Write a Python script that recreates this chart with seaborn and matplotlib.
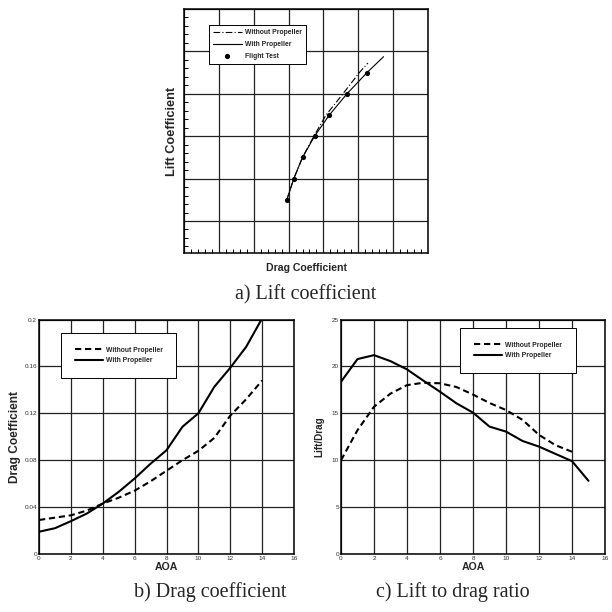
import matplotlib
matplotlib.use("Agg")
import matplotlib.pyplot as plt
import seaborn as sns
from matplotlib.ticker import AutoMinorLocator, MultipleLocator, NullFormatter

# a) lift coefficient vs drag coefficient
cd_without = [0.059, 0.063, 0.068, 0.0745, 0.0815, 0.0912, 0.1006, 0.1055]
cl_without = [0.30, 0.40, 0.50, 0.60, 0.70, 0.80, 0.90, 0.945]
cd_with = [0.059, 0.063, 0.068, 0.0749, 0.0834, 0.0935, 0.105, 0.1145]
cl_with = [0.30, 0.40, 0.50, 0.60, 0.70, 0.80, 0.90, 0.975]
cd_flight = [0.059, 0.063, 0.0682, 0.0749, 0.0834, 0.0935, 0.105]
cl_flight = [0.30, 0.40, 0.50, 0.60, 0.70, 0.80, 0.90]

# b) drag coefficient vs AOA
aoa_b = list(range(0, 15))
drag_without = [0.029, 0.031, 0.033, 0.037, 0.043, 0.048, 0.054, 0.062, 0.071,
                0.080, 0.088, 0.099, 0.118, 0.132, 0.148]
drag_with = [0.019, 0.022, 0.028, 0.0345, 0.043, 0.053, 0.0644, 0.077, 0.0885,
             0.1085, 0.120, 0.1426, 0.1588, 0.1767, 0.201]

# c) lift to drag ratio vs AOA
aoa_c_without = list(range(0, 15))
ld_without = [10.0, 13.2, 15.7, 17.1, 18.0, 18.26, 18.2, 17.8, 17.0, 16.1,
              15.35, 14.3, 12.7, 11.6, 10.9]
aoa_c_with = list(range(0, 16))
ld_with = [18.36, 20.78, 21.2, 20.56, 19.68, 18.47, 17.3, 16.06, 15.07, 13.58,
           13.05, 12.05, 11.45, 10.67, 9.9, 7.8]

sns.set_style("white")
plt.rcParams['font.family'] = ['Liberation Sans', 'DejaVu Sans']

fig = plt.figure(figsize=(6.12, 6.12), dpi=100)

grid_kw = dict(color="#222222", lw=0.9)
leg_font = dict(size=4.9, weight="bold")
lab_font = dict(fontsize=7.6, fontweight="bold")

# -------------------------------
# a) Lift coefficient
# -------------------------------
ax_a = fig.add_axes([184/612, 1 - 253/612, 244/612, 244/612])
sns.lineplot(x=cd_without, y=cl_without, ax=ax_a, color="black", lw=0.8,
             sort=False, estimator=None, label="Without Propeller")
ax_a.lines[-1].set_dashes([6, 2, 1, 2])
sns.lineplot(x=cd_with, y=cl_with, ax=ax_a, color="black", lw=0.8,
             sort=False, estimator=None, label="With Propeller")
sns.scatterplot(x=cd_flight, y=cl_flight, ax=ax_a, color="black", s=14,
                edgecolor="black", linewidth=0, label="Flight Test", zorder=5)
ax_a.set_xlim(0, 0.14)
ax_a.set_ylim(0.049, 1.2)
ax_a.xaxis.set_major_locator(MultipleLocator(0.02))
ax_a.yaxis.set_major_locator(MultipleLocator(0.2))
ax_a.xaxis.set_minor_locator(AutoMinorLocator(5))
ax_a.yaxis.set_minor_locator(AutoMinorLocator(5))
ax_a.xaxis.set_major_formatter(NullFormatter())
ax_a.yaxis.set_major_formatter(NullFormatter())
ax_a.tick_params(which="major", length=0)
ax_a.tick_params(which="minor", direction="in", length=3, width=0.7,
                 left=True, bottom=True, color="black")
ax_a.grid(True, which="major", **grid_kw)
ax_a.set_xlabel("Drag Coefficient", **lab_font)
ax_a.set_ylabel("Lift Coefficient", fontsize=9.2, fontweight="bold")
ax_a.xaxis.set_label_coords(0.5, -0.043)
ax_a.yaxis.set_label_coords(-0.025, 0.5)
leg = ax_a.legend(loc="upper left", bbox_to_anchor=(0.1025, 0.934), prop=leg_font,
                  frameon=True, fancybox=False, edgecolor="black", framealpha=1,
                  borderpad=0.6, handlelength=4.2, handletextpad=0.5,
                  labelspacing=0.7, borderaxespad=0)
leg.get_frame().set_linewidth(0.7)

# -------------------------------
# b) Drag coefficient
# -------------------------------
ax_b = fig.add_axes([39/612, 1 - 554/612, 255/612, 234.5/612])
sns.lineplot(x=aoa_b, y=drag_without, ax=ax_b, color="black", lw=1.5,
             sort=False, estimator=None, label="Without Propeller")
ax_b.lines[-1].set_dashes([3, 1.8])
sns.lineplot(x=aoa_b, y=drag_with, ax=ax_b, color="black", lw=1.5,
             sort=False, estimator=None, label="With Propeller")
ax_b.set_xlim(0, 16)
ax_b.set_ylim(0, 0.2)
ax_b.set_xticks(range(0, 17, 2))
ax_b.set_yticks([0, 0.04, 0.08, 0.12, 0.16, 0.2])
ax_b.set_yticklabels(["0", "0.04", "0.08", "0.12", "0.16", "0.2"])
ax_b.set_xlabel("AOA", **lab_font)
ax_b.set_ylabel("Drag Coefficient", fontsize=8.6, fontweight="bold")
ax_b.xaxis.set_label_coords(0.5, -0.034)
ax_b.yaxis.set_label_coords(-0.07, 0.5)
leg = ax_b.legend(loc="upper left", bbox_to_anchor=(0.086, 0.942), prop=leg_font,
                  frameon=True, fancybox=False, edgecolor="black", framealpha=1,
                  borderpad=2.0, handlelength=4.2, handletextpad=0.4,
                  labelspacing=0.5, borderaxespad=0)
leg.get_frame().set_linewidth(0.7)

# -------------------------------
# c) Lift to drag ratio
# -------------------------------
ax_c = fig.add_axes([341/612, 1 - 554/612, 264/612, 234.5/612])
sns.lineplot(x=aoa_c_without, y=ld_without, ax=ax_c, color="black", lw=1.5,
             sort=False, estimator=None, label="Without Propeller")
ax_c.lines[-1].set_dashes([3, 1.8])
sns.lineplot(x=aoa_c_with, y=ld_with, ax=ax_c, color="black", lw=1.5,
             sort=False, estimator=None, label="With Propeller")
ax_c.set_xlim(0, 16)
ax_c.set_ylim(0, 25)
ax_c.set_xticks(range(0, 17, 2))
ax_c.set_yticks(range(0, 26, 5))
ax_c.set_xlabel("AOA", **lab_font)
ax_c.set_ylabel("Lift/Drag", fontsize=7.2, fontweight="bold")
ax_c.xaxis.set_label_coords(0.5, -0.034)
ax_c.yaxis.set_label_coords(-0.062, 0.5)
leg = ax_c.legend(loc="upper left", bbox_to_anchor=(0.451, 0.964), prop=leg_font,
                  frameon=True, fancybox=False, edgecolor="black", framealpha=1,
                  borderpad=2.0, handlelength=4.2, handletextpad=0.4,
                  labelspacing=0.5, borderaxespad=0)
leg.get_frame().set_linewidth(0.7)

for ax in (ax_b, ax_c):
    ax.grid(True, which="major", **grid_kw)
    ax.tick_params(which="major", length=0, labelsize=4.6, pad=1.5, colors="#333333")

for ax in (ax_a, ax_b, ax_c):
    ax.set_axisbelow(True)
    for sp in ax.spines.values():
        sp.set_color("black")
        sp.set_linewidth(1.1)

cap_font = dict(family=["Liberation Serif", "DejaVu Serif"], fontsize=14.5,
                ha="center", va="center")
fig.text(306/612, 1 - 295/612, "a) Lift coefficient", **cap_font)
fig.text(210/612, 1 - 592/612, "b) Drag coefficient", **cap_font)
fig.text(453/612, 1 - 592/612, "c) Lift to drag ratio", **cap_font)

fig.savefig("out.png", dpi=100)
